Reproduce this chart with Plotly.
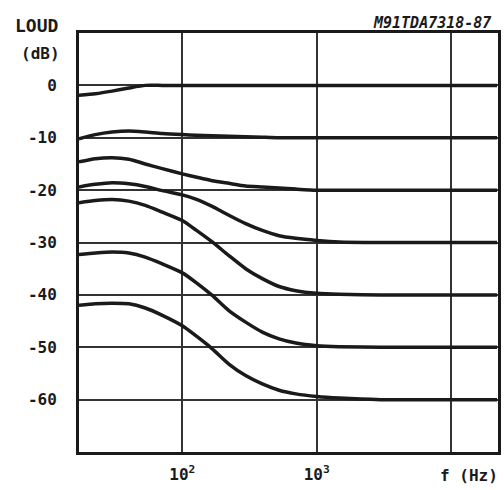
import plotly.graph_objects as go

# Frequency (Hz) sample points
freq = [17, 22.5, 30, 40, 53, 71, 100, 126, 167, 222, 296, 394, 525, 700, 1000, 1470, 3000, 22000]

# Loudness curves (dB), one per attenuation step
loud_0 = [-1.9, -1.6, -1.1, -0.5, 0, 0, 0, 0, 0, 0, 0, 0, 0, 0, 0, 0, 0, 0]
loud_10 = [-10.2, -9.4, -8.9, -8.7, -8.9, -9.2, -9.4, -9.5, -9.6, -9.7, -9.8, -9.9, -10, -10, -10, -10, -10, -10]
loud_20 = [-14.6, -14.0, -13.8, -14.1, -15.0, -15.9, -16.9, -17.5, -18.2, -18.7, -19.2, -19.4, -19.6, -19.8, -20, -20, -20, -20]
loud_30 = [-19.4, -18.9, -18.6, -18.8, -19.3, -20.1, -20.9, -21.7, -23.1, -24.8, -26.4, -27.7, -28.7, -29.2, -29.6, -29.9, -30, -30]
loud_40 = [-22.4, -22.0, -21.8, -22.1, -22.9, -24.2, -25.8, -27.6, -29.9, -32.5, -35.0, -36.9, -38.4, -39.2, -39.7, -39.9, -40, -40]
loud_50 = [-32.3, -32.0, -31.8, -32.0, -32.8, -34.1, -35.8, -37.6, -40.1, -43.0, -45.2, -47.1, -48.4, -49.2, -49.7, -49.9, -50, -50]
loud_60 = [-42.0, -41.7, -41.6, -41.7, -42.5, -43.9, -45.9, -47.8, -50.3, -53.2, -55.4, -57.0, -58.2, -58.9, -59.4, -59.7, -60, -60]

curves = [loud_0, loud_10, loud_20, loud_30, loud_40, loud_50, loud_60]

y_tickvals = [0, -10, -20, -30, -40, -50, -60]
y_ticktext = ["0", "-10", "-20", "-30", "-40", "-50", "-60"]
x_tickvals = [100, 1000]
x_ticktext = ["10<sup>2</sup>", "10<sup>3</sup>"]
x_extra_grid = [10000]

FONT = "DejaVu Sans Mono"
INK = "#1a1a1a"

fig = go.Figure()
for c in curves:
    fig.add_trace(go.Scatter(
        x=freq, y=c, mode="lines",
        line=dict(color=INK, width=3.5, shape="spline", smoothing=0.6),
        showlegend=False, hoverinfo="skip",
    ))

fig.update_layout(
    width=504, height=490,
    margin=dict(l=79, r=6, t=33, b=38, autoexpand=False),
    paper_bgcolor="white", plot_bgcolor="white",
    font=dict(family=FONT, size=15, color=INK, weight="bold"),
    xaxis=dict(
        type="log", range=[1.231, 4.35], automargin=False,
        tickmode="array", tickvals=x_tickvals, ticktext=x_ticktext,
        showgrid=True, gridcolor="#333333", gridwidth=2,
        minor=dict(tickmode="array", tickvals=x_extra_grid, showgrid=True,
                   gridcolor="#333333", gridwidth=2, ticks=""),
        showline=True, linecolor=INK, linewidth=3, mirror=True,
        ticks="", ticklabelstandoff=6,
        tickfont=dict(family=FONT, size=16, color=INK, weight="bold"),
        zeroline=False,
    ),
    yaxis=dict(
        range=[-70, 10], automargin=False,
        tickmode="array", tickvals=y_tickvals, ticktext=y_ticktext,
        showgrid=True, gridcolor="#333333", gridwidth=2,
        showline=True, linecolor=INK, linewidth=3, mirror=True,
        ticks="", ticklabelstandoff=16,
        tickfont=dict(family=FONT, size=16, color=INK, weight="bold"),
        zeroline=False,
    ),
    annotations=[
        dict(text="LOUD", xref="paper", yref="paper", x=-0.157, y=1.019,
             xanchor="left", yanchor="middle", showarrow=False,
             font=dict(family=FONT, size=18, color=INK, weight="bold")),
        dict(text="(dB)", xref="paper", yref="paper", x=-0.093, y=0.952,
             xanchor="center", yanchor="middle", showarrow=False,
             font=dict(family=FONT, size=16, color=INK, weight="bold")),
        dict(text="M91TDA7318-87", xref="paper", yref="paper", x=0.988, y=1.024,
             xanchor="right", yanchor="middle", showarrow=False,
             font=dict(family=FONT, size=15, color=INK, weight="bold", style="italic")),
        dict(text="f (Hz)", xref="paper", yref="paper", x=1.005, y=-0.057,
             xanchor="right", yanchor="middle", showarrow=False,
             font=dict(family=FONT, size=16, color=INK, weight="bold")),
    ],
)

fig.write_html("out.html",
               config={"displayModeBar": False},
               post_script="document.body.style.margin='0';document.body.style.padding='0';")
